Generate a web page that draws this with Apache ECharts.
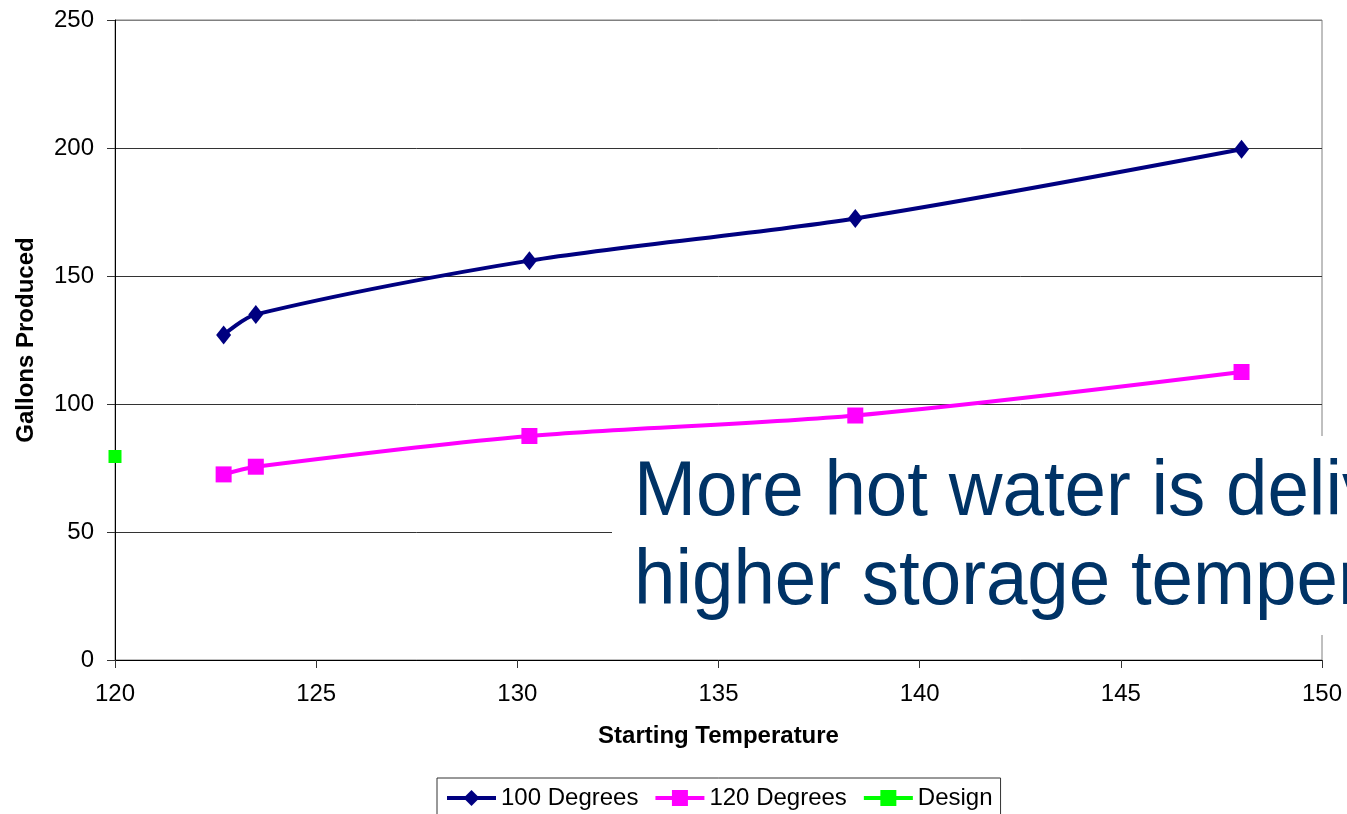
<!DOCTYPE html>
<html>
<head>
<meta charset="utf-8">
<script src="https://cdn.jsdelivr.net/npm/echarts@6/dist/echarts.min.js"></script>
<style>
html,body{margin:0;padding:0;background:#fff;}
#chart{width:1347px;height:814px;}
</style>
</head>
<body>
<div id="chart"></div>
<script>
const temps100 = [122.7, 123.5, 130.3, 138.4, 148.0];
const gallons100 = [127, 135, 156, 172.5, 199.5];
const temps120 = [122.7, 123.5, 130.3, 138.4, 148.0];
const gallons120 = [72.5, 75.5, 87.5, 95.5, 112.5];
const designTemp = [120];
const designGallons = [79.5];
const seriesNames = ['100 Degrees', '120 Degrees', 'Design'];
const noteLines = ['More hot water is delivered at', 'higher storage temperatures'];

const pairs = (xs, ys) => xs.map((x, i) => [x, ys[i]]);
const FONT = 'Liberation Sans, Arial, sans-serif';

const chart = echarts.init(document.getElementById('chart'));
chart.setOption({
  backgroundColor: '#fff',
  animation: false,
  grid: {left: 115, right: 25, top: 20, bottom: 154, show: true, borderColor: '#808080', borderWidth: 1, outerBoundsMode: 'none', containLabel: false},
  xAxis: {
    type: 'value', min: 120, max: 150, interval: 5,
    name: 'Starting Temperature', nameLocation: 'middle', nameGap: 64,
    nameTextStyle: {fontFamily: FONT, fontSize: 24, fontWeight: 'bold', color: '#000'},
    axisLine: {lineStyle: {color: '#000', width: 1}},
    axisTick: {show: true, length: 8, lineStyle: {color: '#333'}},
    axisLabel: {fontFamily: FONT, fontSize: 24, color: '#000', margin: 22},
    splitLine: {show: false}
  },
  yAxis: {
    type: 'value', min: 0, max: 250, interval: 50,
    name: 'Gallons Produced', nameLocation: 'middle', nameGap: 77, nameRotate: 90,
    nameTextStyle: {fontFamily: FONT, fontSize: 24, fontWeight: 'bold', color: '#000'},
    axisLine: {show: true, lineStyle: {color: '#000', width: 1}},
    axisTick: {show: true, length: 8, lineStyle: {color: '#333'}},
    axisLabel: {fontFamily: FONT, fontSize: 24, color: '#000', margin: 21},
    splitLine: {show: true, lineStyle: {color: ['#000', '#333', '#333', '#333', '#333', '#808080'], width: 1}}
  },
  legend: {
    data: seriesNames,
    top: 778, left: 437,
    orient: 'horizontal',
    borderColor: '#333', borderWidth: 1,
    padding: [8, 8, 20, 8],
    itemGap: 15, itemWidth: 49, itemHeight: 20,
    lineStyle: {width: 4},
    textStyle: {fontFamily: FONT, fontSize: 24, color: '#000'}
  },
  series: [
    {
      name: seriesNames[0], type: 'line', data: pairs(temps100, gallons100),
      smooth: 0.3, symbol: 'diamond', symbolSize: [15, 19],
      lineStyle: {color: '#000080', width: 4}, itemStyle: {color: '#000080'}
    },
    {
      name: seriesNames[1], type: 'line', data: pairs(temps120, gallons120),
      smooth: 0.3, symbol: 'rect', symbolSize: 16,
      lineStyle: {color: '#ff00ff', width: 4}, itemStyle: {color: '#ff00ff'}
    },
    {
      name: seriesNames[2], type: 'line', data: pairs(designTemp, designGallons),
      symbol: 'rect', symbolSize: 13, clip: false,
      lineStyle: {color: '#00ff00', width: 4}, itemStyle: {color: '#00ff00'}
    }
  ],
  graphic: [
    {type: 'rect', z: 100, shape: {x: 612, y: 436, width: 800, height: 199}, style: {fill: '#fff'}},
    {type: 'text', z: 101, x: 634, y: 493, scaleX: 0.955, style: {text: noteLines[0], fontFamily: FONT, fontSize: 78, fill: '#003366', verticalAlign: 'middle'}},
    {type: 'text', z: 101, x: 634, y: 582, scaleX: 0.955, style: {text: noteLines[1], fontFamily: FONT, fontSize: 78, fill: '#003366', verticalAlign: 'middle'}}
  ]
});
</script>
</body>
</html>
